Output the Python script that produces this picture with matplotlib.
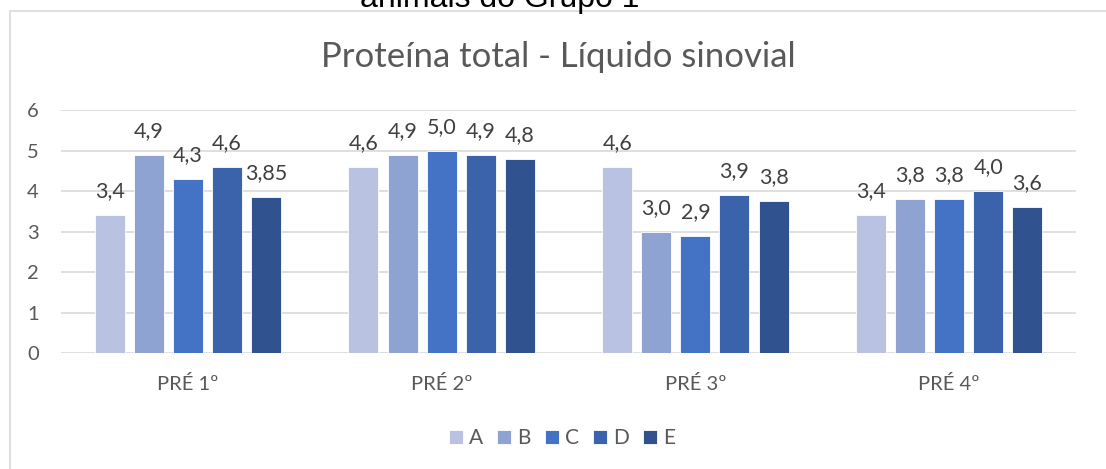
import numpy as np
import matplotlib.pyplot as plt
from matplotlib.patches import Rectangle

# dados
categorias = ['PRÉ 1º', 'PRÉ 2º', 'PRÉ 3º', 'PRÉ 4º']
series = ['A', 'B', 'C', 'D', 'E']
A = [3.4, 4.6, 4.6, 3.4]
B = [4.9, 4.9, 3.0, 3.8]
C = [4.3, 5.0, 2.9, 3.8]
D = [4.6, 4.9, 3.9, 4.0]
E = [3.85, 4.8, 3.75, 3.6]
rotulos = [
    ['3,4', '4,6', '4,6', '3,4'],
    ['4,9', '4,9', '3,0', '3,8'],
    ['4,3', '5,0', '2,9', '3,8'],
    ['4,6', '4,9', '3,9', '4,0'],
    ['3,85', '4,8', '3,8', '3,6'],
]
cores = ['#B9C3E1', '#8FA3D3', '#4472C4', '#3B63AB', '#30528F']

plt.rcParams['font.family'] = ['Lato', 'DejaVu Sans']
cinza = '#595959'

fig = plt.figure(figsize=(11.06, 4.69), dpi=100)
ax = fig.add_axes([61 / 1106, 1 - 353 / 469, 1015 / 1106, 243 / 469])

# moldura do gráfico (cortada à direita e embaixo)
fig.patches.append(Rectangle((9.5 / 1106, -0.1), 1.2, 1.1 - 11 / 469,
                             transform=fig.transFigure, fill=False,
                             edgecolor='#D9D9D9', lw=1.2))

x = np.arange(len(categorias))
largura = 0.118
passo = 0.154
dados = [A, B, C, D, E]
for i, (nome, vals) in enumerate(zip(series, dados)):
    pos = x + (i - 2) * passo
    barras = ax.bar(pos, vals, largura, color=cores[i], label=nome,
                    edgecolor='white', linewidth=0.6, zorder=3)
    for b, txt in zip(barras, rotulos[i]):
        ax.annotate(txt, (b.get_x() + b.get_width() / 2, b.get_height()),
                    xytext=(0, 10), textcoords='offset points',
                    ha='center', va='bottom', fontsize=15.5, color='#404040')

ax.set_xlim(-0.5, 3.5)
ax.set_ylim(0, 6)
ax.set_yticks(range(7))
ax.set_xticks(x)
ax.set_xticklabels(categorias)
ax.grid(axis='y', color='#D9D9D9', lw=1.2, zorder=0)
for s in ax.spines.values():
    s.set_visible(False)
ax.tick_params(length=0, colors=cinza, labelsize=14.5)
ax.tick_params(axis='y', pad=16)
ax.tick_params(axis='x', pad=16)

fig.text(0.5 * (323 + 793) / 1106, 1 - 57 / 469, 'Proteína total - Líquido sinovial',
         ha='center', va='center', fontsize=25, color=cinza)
fig.text(0.5 * (362 + 637) / 1106, 1 - 7 / 469, 'animais do Grupo 1',
         ha='center', va='baseline', fontsize=23, color='black',
         family=['Liberation Sans'])

fig.legend(loc='center', bbox_to_anchor=(562 / 1106, 1 - 438 / 469), ncol=5,
           frameon=False, fontsize=15, labelcolor=cinza, handlelength=0.67,
           handleheight=0.67, handletextpad=0.3, columnspacing=0.67)

fig.savefig('out.png', dpi=100)
